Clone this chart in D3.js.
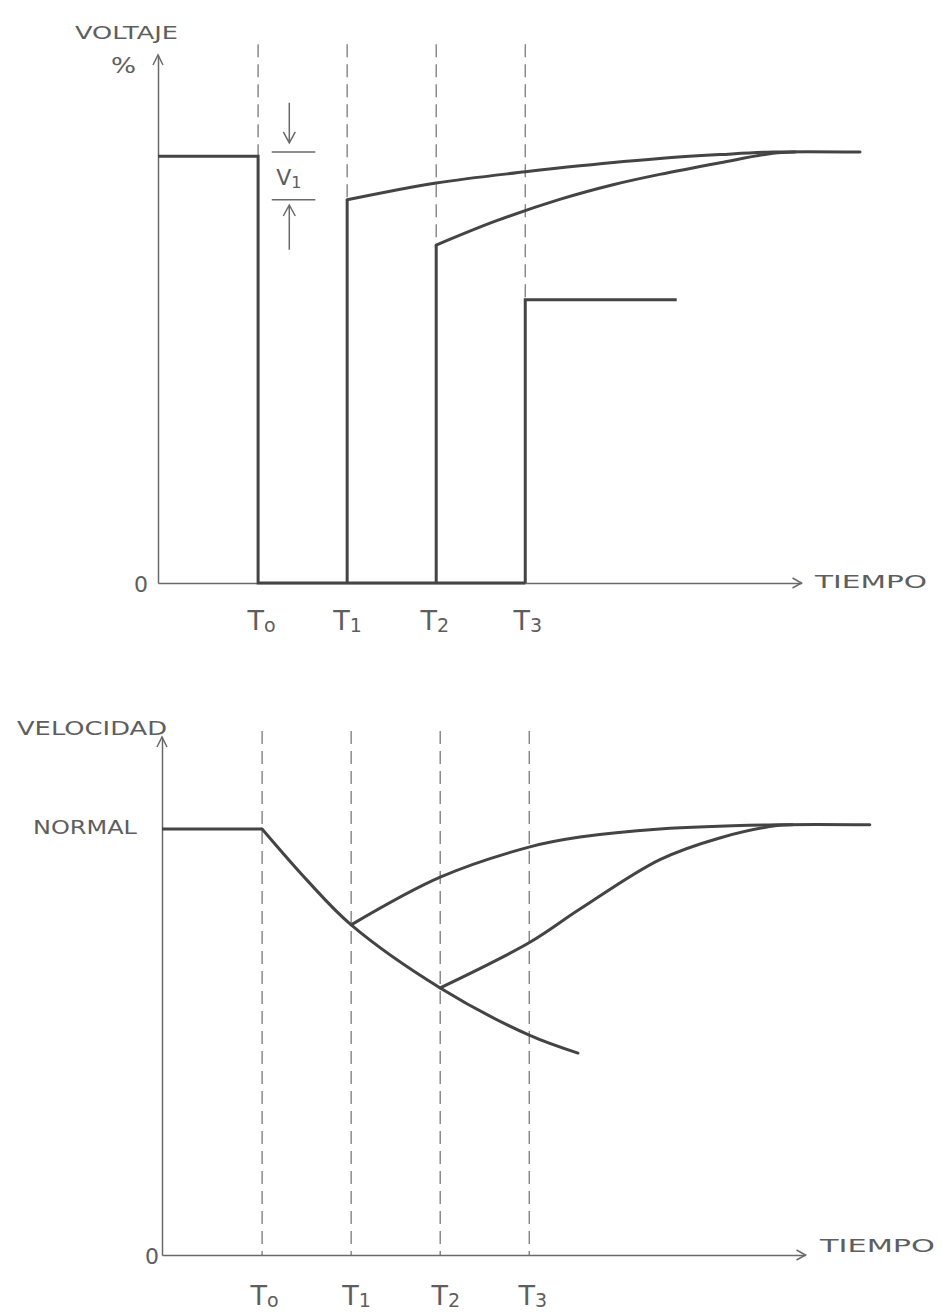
<!DOCTYPE html>
<html>
<head>
<meta charset="utf-8">
<script src="https://cdnjs.cloudflare.com/ajax/libs/d3/7.8.5/d3.min.js"></script>
<style>
  body { margin: 0; background: #fff; }
  svg text { font-family: "DejaVu Sans", sans-serif; fill: #5e5e5e; }
</style>
</head>
<body>
<div id="chart"></div>
<script>
"use strict";

// time marks T0..T3 (same in both panels), subscripts as drawn
let timeSubs = ["o", "1", "2", "3"];
let timeMarks = [15.4, 29.1, 42.8, 56.5];

// top panel - voltaje %  [t, v]
let voltPrefault = [[0, 99], [15.4, 99], [15.4, 0], [56.5, 0]];
let voltStepT1 = [[29.1, 0], [29.1, 88.9]];
let voltRecT1 = [[29.1, 88.9], [42.8, 92.8], [56.5, 95.4], [64.9, 96.8], [77.2, 98.5], [86.5, 99.4], [94.6, 100], [108, 100]];
let voltStepT2 = [[42.8, 0], [42.8, 78.4]];
let voltRecT2 = [[42.8, 78.4], [52, 84], [61.8, 89], [70, 92.4], [77.2, 94.8], [86.5, 97.5], [94.6, 99.7], [98, 100]];
let voltStepT3 = [[56.5, 0], [56.5, 65.7], [79.8, 65.7]];

// bottom panel - velocidad  [t, v]
let speedNormal = [[0, 100], [15.4, 100]];
let speedDecay = [[15.4, 100], [22.3, 88], [29.1, 77.5], [42.8, 62.7], [56.5, 51.6], [64, 47.4]];
let speedRecT1 = [[29.1, 77.5], [42.8, 88.7], [56.6, 95.8], [64.3, 98.1], [76.6, 100], [94.6, 101], [108.9, 101]];
let speedRecT2 = [[42.8, 62.7], [56.6, 73.4], [64.3, 81.2], [76.6, 92.8], [85.8, 97.9], [94.6, 100.8], [97, 101]];

const W = 943, H = 1314;
const ink = "#444", axisInk = "#6a6a6a", dashInk = "#7a7a7a";

let svg = d3.select("#chart").append("svg").attr("width", W).attr("height", H);

function drawPanel(p) {
  let g = svg.append("g");
  let x = d3.scaleLinear().domain([0, 99]).range(p.xRange);
  let y = d3.scaleLinear().domain([0, p.yTop]).range(p.yRange);

  // dashed time marks
  g.selectAll("line.mark").data(timeMarks).enter()
    .append("line")
    .attr("x1", d => x(d)).attr("x2", d => x(d))
    .attr("y1", y(p.dashTop))
    .attr("y2", (d, i) => y(p.dashEnd[i]))
    .style("stroke", dashInk).style("stroke-width", 1.3)
    .style("stroke-dasharray", "13,7");

  // x axis with T labels
  let xAxis = g.append("g")
    .attr("transform", `translate(0,${y(0)})`)
    .call(d3.axisBottom(x).tickValues(timeMarks).tickSize(0).tickSizeOuter(0));
  xAxis.select(".domain").style("stroke", axisInk).style("stroke-width", 1.5);
  xAxis.selectAll("text").each(function (d, i) {
    let t = d3.select(this).text("T").attr("y", p.labelDy).attr("dy", 0)
      .attr("dx", p.labelDx[i])
      .style("font-size", "27px").style("font-family", "DejaVu Sans").style("fill", "#5e5e5e");
    t.append("tspan").attr("dy", 2).style("font-size", "19px").text(timeSubs[i]);
  });
  g.append("path")
    .attr("d", `M${x(99) - 9},${y(0) - 5}L${x(99)},${y(0)}L${x(99) - 9},${y(0) + 5}`)
    .style("fill", "none").style("stroke", axisInk).style("stroke-width", 1.5);

  // y axis, only the 0
  let yAxis = g.append("g")
    .attr("transform", `translate(${x(0)},0)`)
    .call(d3.axisLeft(y).tickValues([0]).tickSize(0).tickPadding(p.zeroPad).tickSizeOuter(0));
  yAxis.select(".domain").style("stroke", axisInk).style("stroke-width", 1.5);
  yAxis.selectAll("text").attr("dy", "0.4em")
    .style("font-size", "22px").style("font-family", "DejaVu Sans").style("fill", "#5e5e5e");
  g.append("path")
    .attr("d", `M${x(0) - 5},${y(p.yTop) + 10}L${x(0)},${y(p.yTop)}L${x(0) + 5},${y(p.yTop) + 10}`)
    .style("fill", "none").style("stroke", axisInk).style("stroke-width", 1.5);

  let straight = d3.line().x(d => x(d[0])).y(d => y(d[1]));
  let smooth = d3.line().x(d => x(d[0])).y(d => y(d[1])).curve(d3.curveCatmullRom.alpha(0.5));

  p.steps.forEach(s => {
    g.append("path").attr("d", straight(s))
      .style("fill", "none").style("stroke", ink).style("stroke-width", 3).style("stroke-linejoin", "miter");
  });
  p.curves.forEach(s => {
    g.append("path").attr("d", smooth(s))
      .style("fill", "none").style("stroke", ink).style("stroke-width", 3).style("stroke-linecap", "round");
  });

  // axis titles
  p.titles.forEach(t => {
    g.append("text").attr("x", t.x).attr("y", t.y)
      .attr("textLength", t.len).attr("lengthAdjust", "spacingAndGlyphs")
      .style("font-size", t.size + "px").text(t.text);
  });

  return { g: g, x: x, y: y };
}

let topPanel = drawPanel({
  xRange: [158, 801.5], yRange: [583, 55], yTop: 122.5,
  dashTop: 125, dashEnd: [voltPrefault[1][1], voltStepT1[1][1], voltStepT2[1][1], voltStepT3[1][1]],
  labelDy: 47, labelDx: [3, 0, -2, 2], zeroPad: 10,
  steps: [voltPrefault, voltStepT1, voltStepT2, voltStepT3],
  curves: [voltRecT1, voltRecT2],
  titles: [
    { text: "VOLTAJE", x: 75, y: 39, len: 103, size: 17 },
    { text: "%", x: 111, y: 73, len: 25, size: 22 },
    { text: "TIEMPO", x: 815, y: 588, len: 112, size: 18 }
  ]
});

let bottomPanel = drawPanel({
  xRange: [162, 805.5], yRange: [1255, 737], yTop: 121.6,
  dashTop: 123, dashEnd: [0, 0, 0, 0],
  labelDy: 50, labelDx: [2, 5, 5, 3], zeroPad: 3,
  steps: [speedNormal],
  curves: [speedDecay, speedRecT1, speedRecT2],
  titles: [
    { text: "VELOCIDAD", x: 17, y: 735, len: 150, size: 19 },
    { text: "NORMAL", x: 33, y: 834, len: 104, size: 19 },
    { text: "TIEMPO", x: 820, y: 1252, len: 115, size: 18 }
  ]
});

// V1 marker between final level and the T1 restart level
let v1 = { t0: 17.5, t1: 24.2, ta: 20.2, hi: 100, lo: voltRecT1[0][1] };
let tx = topPanel.x, ty = topPanel.y, tg = topPanel.g;
[v1.hi, v1.lo].forEach(v => {
  tg.append("line").attr("x1", tx(v1.t0)).attr("x2", tx(v1.t1)).attr("y1", ty(v)).attr("y2", ty(v))
    .style("stroke", axisInk).style("stroke-width", 1.5);
});
tg.append("path")
  .attr("d", `M${tx(v1.ta)},${ty(111.4)}V${ty(102.1)}M${tx(v1.ta) - 6},${ty(102.1) - 11}L${tx(v1.ta)},${ty(102.1)}L${tx(v1.ta) + 6},${ty(102.1) - 11}`)
  .style("fill", "none").style("stroke", axisInk).style("stroke-width", 1.5);
tg.append("path")
  .attr("d", `M${tx(v1.ta)},${ty(77.3)}V${ty(87.7)}M${tx(v1.ta) - 6},${ty(87.7) + 11}L${tx(v1.ta)},${ty(87.7)}L${tx(v1.ta) + 6},${ty(87.7) + 11}`)
  .style("fill", "none").style("stroke", axisInk).style("stroke-width", 1.5);
let v1Text = tg.append("text").attr("x", tx(v1.ta) - 13).attr("y", ty((v1.hi + v1.lo) / 2) + 9)
  .style("font-size", "22px").text("V");
v1Text.append("tspan").attr("dy", 3).style("font-size", "16px").text("1");
</script>
</body>
</html>
